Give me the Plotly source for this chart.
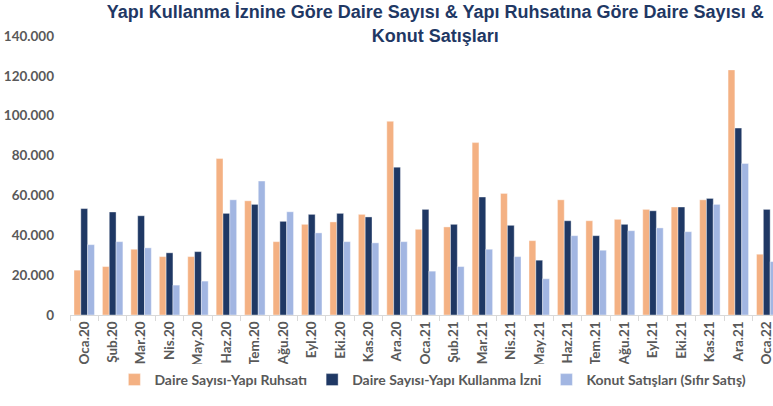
import plotly.graph_objects as go

months = ["Oca.20","Şub.20","Mar.20","Nis.20","May.20","Haz.20","Tem.20","Ağu.20","Eyl.20","Eki.20","Kas.20","Ara.20",
          "Oca.21","Şub.21","Mar.21","Nis.21","May.21","Haz.21","Tem.21","Ağu.21","Eyl.21","Eki.21","Kas.21","Ara.21","Oca.22"]
ruhsat = [22500,24300,33000,29300,29300,78500,57300,36800,45500,46700,50500,97200,
          43000,44200,86500,61000,37300,57800,47300,48000,53000,54200,57800,123000,30500]
kullanma = [53400,51700,49800,31200,31800,51000,55500,47000,50500,51000,49200,74200,
            53000,45500,59200,45000,27500,47300,39800,45500,52300,54200,58500,93800,53000]
satis = [35300,36800,33700,15000,17000,57800,67200,51800,41200,36800,36200,36800,
         22000,24300,33000,29300,18200,39800,32500,42300,43700,41800,55500,76000,26800]

series = [("Daire Sayısı-Yapı Ruhsatı", ruhsat, "#F4B183"),
          ("Daire Sayısı-Yapı Kullanma İzni", kullanma, "#1F3864"),
          ("Konut Satışları (Sıfır Satış)", satis, "#A2B6E2")]

fig = go.Figure()
for name, vals, col in series:
    fig.add_trace(go.Bar(x=months, y=vals, name=name, marker=dict(color=col, line=dict(color="white", width=0.4))))

gray = "#595959"
fig.update_layout(
    width=773, height=406, margin=dict(l=70, r=0, t=36, b=91, autoexpand=False),
    plot_bgcolor="white", paper_bgcolor="white",
    barmode="group", bargap=0.28, bargroupgap=0,
    separators=",.",
    title=dict(text="<b>Yapı Kullanma İznine Göre Daire Sayısı & Yapı Ruhsatına Göre Daire Sayısı &<br>Konut Satışları</b>",
               x=0.563, xanchor="center", xref="container", y=0.955, yanchor="middle", yref="container", automargin=False,
               font=dict(family="Liberation Sans, Arial", size=18, color="#1F3864")),
    font=dict(family="Lato, Open Sans, sans-serif", color=gray, size=14),
    legend=dict(orientation="h", xref="container", x=0.56, xanchor="center", yref="container", y=0.064, yanchor="middle",
                font=dict(size=14, color=gray, weight="bold"), itemwidth=30, tracegroupgap=0),
)
fig.update_xaxes(type="category", range=[-0.5, 24.22], showline=True, linecolor="#D9D9D9", linewidth=1,
                 ticks="outside", tickson="boundaries", tickcolor="#D9D9D9", ticklen=5, automargin=False,
                 tickangle=-90, tickfont=dict(size=13.5, color=gray, family="Lato", weight="bold"), showgrid=False)
fig.update_yaxes(range=[0, 140000], dtick=20000, tickformat=",d", showgrid=False, showline=False, zeroline=False,
                 automargin=False, tickfont=dict(size=13.5, color=gray, family="Lato", weight="bold"),
                 ticks="", ticklabelstandoff=15)
# drop the browser's default 8px body margin so the figure fills the window
fig.write_html("out.html", config={"displayModeBar": False}, post_script="document.body.style.margin='0';")
